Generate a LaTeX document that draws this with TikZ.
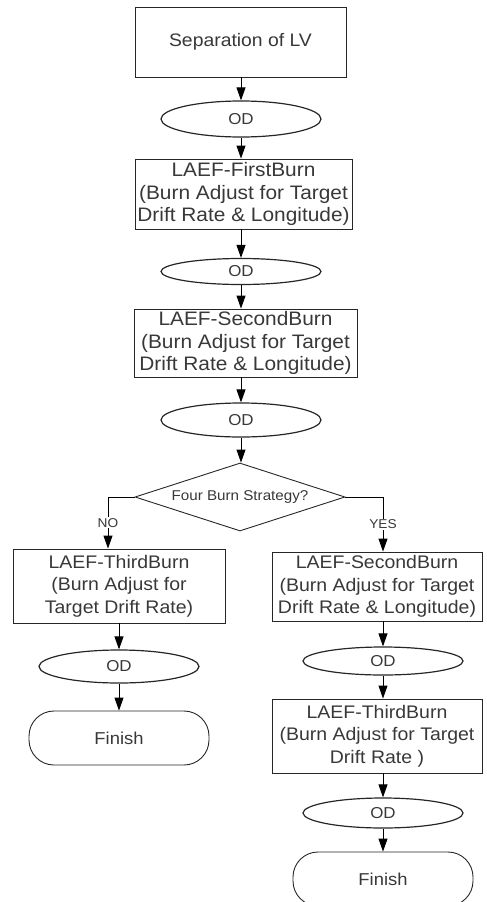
\documentclass[tikz,border=0pt]{standalone}
\usepackage{fontspec}
\setmainfont{Liberation Sans}[FakeStretch=1.07]
\usetikzlibrary{shapes.geometric,arrows.meta}
\begin{document}
\begin{tikzpicture}[x=1pt,y=-1pt,
  base/.style={draw=black!85, line width=0.9pt, text=black!78, inner sep=0pt, align=center},
  procbox/.style={base, rectangle, font=\fontsize{19.5}{22.5}\selectfont},
  branchbox/.style={base, rectangle, font=\fontsize{18.2}{22.5}\selectfont},
  odnode/.style={base, ellipse, line width=1.2pt, minimum width=160pt, font=\fontsize{15.8}{18}\selectfont},
  decision/.style={base, diamond, aspect=3.1, minimum width=210pt, minimum height=68pt, font=\fontsize{14.2}{17}\selectfont},
  term/.style={base, rectangle, rounded corners=25pt, minimum width=180pt, minimum height=54pt, font=\fontsize{17.2}{20}\selectfont},
  arr/.style={draw=black, line width=0.9pt, -{Triangle[width=9pt,length=13pt]}},
  lbl/.style={fill=white, inner sep=1pt, text=black!78, font=\fontsize{12.8}{15}\selectfont}]
\useasboundingbox (0,0) rectangle (487,902);
\node[procbox, minimum width=211pt, minimum height=70pt, font=\fontsize{18.1}{22}\selectfont] (b1) at (240.5,42) {Separation of LV};
\node[odnode, minimum height=36pt] (od1) at (241,119) {OD};
\node[procbox, minimum width=217pt, minimum height=70pt] (b2) at (243.5,194) {LAEF-FirstBurn\\(Burn Adjust for Target\\Drift Rate \& Longitude)};
\node[odnode, minimum height=26pt] (od2) at (241,271.5) {OD};
\node[procbox, minimum width=223pt, minimum height=68pt] (b3) at (245.5,343) {LAEF-SecondBurn\\(Burn Adjust for Target\\Drift Rate \& Longitude)};
\node[odnode, minimum height=34pt] (od3) at (241,420) {OD};
\node[decision] (dec) at (240,497) {Four Burn Strategy?};
\coordinate (nl) at (108,497);
\coordinate (yr) at (383,497);
\node[branchbox, minimum width=212pt, minimum height=74pt] (l1) at (119,586) {LAEF-ThirdBurn\\(Burn Adjust for\\Target Drift Rate)};
\node[odnode, minimum height=33pt] (odl) at (119,666.5) {OD};
\node[term] (finl) at (119,738) {Finish};
\node[branchbox, minimum width=210pt, minimum height=69pt] (r1) at (377,586.5) {LAEF-SecondBurn\\(Burn Adjust for Target\\Drift Rate \& Longitude)};
\node[odnode, minimum height=28pt] (odr1) at (383,661) {OD};
\node[branchbox, minimum width=210pt, minimum height=74pt] (r2) at (377,736) {LAEF-ThirdBurn\\(Burn Adjust for Target\\Drift Rate )};
\node[odnode, minimum height=30pt] (odr2) at (383,813) {OD};
\node[term] (finr) at (383,879) {Finish};
\draw[arr] (od1.north |- b1.south) -- (od1.north);
\draw[arr] (od1.south) -- (od1.south |- b2.north);
\draw[arr] (od2.north |- b2.south) -- (od2.north);
\draw[arr] (od2.south) -- (od2.south |- b3.north);
\draw[arr] (od3.north |- b3.south) -- (od3.north);
\draw[arr] (od3.south) -- (od3.south |- dec.north);
\draw[arr] (dec.west) -- (nl) -- node[lbl]{NO} (nl |- l1.north);
\draw[arr] (dec.east) -- (yr) -- node[lbl]{YES} (yr |- r1.north);
\draw[arr] (odl.north |- l1.south) -- (odl.north);
\draw[arr] (odl.south) -- (finl.north);
\draw[arr] (odr1.north |- r1.south) -- (odr1.north);
\draw[arr] (odr1.south) -- (odr1.south |- r2.north);
\draw[arr] (odr2.north |- r2.south) -- (odr2.north);
\draw[arr] (odr2.south) -- (finr.north);
\end{tikzpicture}
\end{document}
